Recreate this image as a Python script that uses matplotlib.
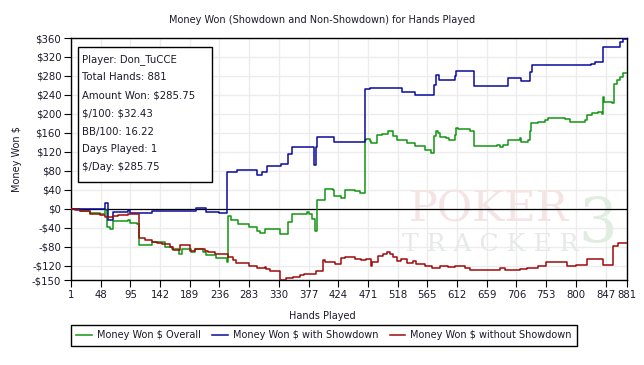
import matplotlib
matplotlib.use('Agg')
import matplotlib.pyplot as plt
from matplotlib.patches import Rectangle

# money won with showdown (hand, $)
sd_hands = [1, 55, 60, 67, 91, 95, 129, 199, 215, 235, 248, 264, 295, 303, 311, 333, 345, 350,
            386, 388, 391, 418, 466, 475, 525, 546, 575, 578, 583, 609, 611, 639, 692, 714, 728,
            730, 824, 831, 843, 860, 870, 874, 881]
sd_vals = [0, 13, -23, -6, -3, -8, -4, 2, -6, -9, 77, 82, 71, 78, 90, 95, 115, 130,
           93, 130, 151, 141, 252, 255, 246, 240, 260, 282, 272, 279, 291, 259, 276, 270, 288,
           303, 306, 310, 342, 340, 351, 357, 357]

# money won without showdown
nsd_hands = [1, 7, 15, 31, 47, 55, 67, 75, 91, 109, 118, 129, 137, 145, 158, 163, 174, 189,
             197, 213, 218, 229, 249, 257, 262, 283, 296, 308, 310, 316, 331, 342, 352, 363,
             370, 373, 389, 400, 403, 419, 429, 435, 450, 460, 468, 476, 477, 487, 495, 501,
             506, 511, 517, 524, 533, 542, 547, 562, 572, 585, 598, 609, 625, 633, 680, 688,
             711, 722, 740, 753, 786, 801, 817, 843, 859, 866, 881]
nsd_vals = [0, -2, -5, -11, -14, -18, -16, -13, -11, -62, -65, -70, -73, -75, -81, -86, -76, -89,
            -84, -89, -92, -96, -101, -108, -115, -120, -124, -122, -127, -131, -149, -145, -144, -140,
            -137, -138, -131, -108, -112, -117, -103, -101, -105, -108, -106, -120, -113, -99, -96, -92,
            -96, -101, -110, -105, -115, -110, -117, -120, -124, -120, -122, -120, -125, -129, -125, -129,
            -127, -124, -120, -113, -120, -118, -105, -119, -78, -71, -71]

# money won overall
all_hands = [1, 15, 31, 47, 55, 58, 63, 68, 91, 94, 105, 109, 129, 150, 161, 172, 176, 191,
             197, 210, 215, 231, 248, 249, 254, 265, 270, 283, 296, 300, 308, 331, 344, 350,
             375, 378, 382, 387, 390, 403, 416, 418, 429, 434, 450, 458, 466, 468, 474, 476,
             486, 494, 503, 511, 517, 533, 545, 561, 571, 576, 578, 582, 585, 594, 600, 608,
             611, 614, 632, 639, 675, 680, 684, 692, 711, 713, 724, 728, 729, 740, 751, 756,
             783, 790, 814, 817, 825, 835, 841, 843, 845, 857, 860, 865, 870, 874, 881]
all_vals = [0, -4, -8, -10, -2, -39, -42, -26, -23, -30, -33, -76, -69, -81, -85, -96, -85, -92,
            -85, -91, -98, -103, -112, -16, -23, -31, -33, -39, -46, -51, -43, -53, -28, -11,
            -7, -11, -21, -46, 18, 42, 39, 27, 23, 39, 37, 34, 144, 148, 143, 139,
            155, 158, 163, 153, 145, 139, 132, 123, 117, 153, 163, 160, 151, 149, 144, 155,
            171, 168, 165, 132, 134, 131, 134, 146, 150, 141, 145, 164, 180, 184, 187, 192,
            189, 184, 187, 198, 201, 203, 199, 236, 226, 222, 263, 272, 277, 286, 286]

x_ticks = [1, 48, 95, 142, 189, 236, 283, 330, 377, 424, 471, 518, 565, 612, 659, 706, 753,
           800, 847, 881]
y_ticks = [360, 320, 280, 240, 200, 160, 120, 80, 40, 0, -40, -80, -120, -150]

info_lines = ['Player: Don_TuCCE', 'Total Hands: 881', 'Amount Won: $285.75', '$/100: $32.43',
              'BB/100: 16.22', 'Days Played: 1', '$/Day: $285.75']

plt.rcParams['font.family'] = ['DejaVu Sans']
plt.rcParams['text.parse_math'] = False
txt = '#1a1a2a'
fs = 7

fig = plt.figure(figsize=(6.44, 3.65), dpi=100)
ax = fig.add_axes([71/644, 85/365, 556/644, 242/365])

ax.plot(all_hands, all_vals, drawstyle='steps-post', color='#129612', lw=1.1, label='Money Won $ Overall', zorder=3)
ax.plot(sd_hands, sd_vals, drawstyle='steps-post', color='#0a0a9e', lw=1.1, label='Money Won $ with Showdown', zorder=3)
ax.plot(nsd_hands, nsd_vals, drawstyle='steps-post', color='#a00a0a', lw=1.1, label='Money Won $ without Showdown', zorder=3)
ax.axhline(0, color='black', lw=0.9, zorder=2)

ax.set_xlim(1, 881)
ax.set_ylim(-150, 360)
ax.set_xticks(x_ticks)
ax.set_yticks(y_ticks)
ax.set_yticklabels([('-$%d' % -v) if v < 0 else ('$%d' % v) for v in y_ticks])
ax.tick_params(labelsize=fs + 0.3, colors='black', labelcolor=txt, length=5, width=0.8, pad=2)
ax.grid(True, color='#ececec', lw=1.0, zorder=0)
ax.set_axisbelow(True)
for s in ax.spines.values():
    s.set_color('black')
    s.set_linewidth(1.0)

ax.set_ylabel('Money Won $', fontsize=fs, color=txt, labelpad=7)
fig.text(0.5, 1 - 316/365, 'Hands Played', ha='center', va='center', fontsize=fs, color=txt)
fig.text(0.5, 1 - 20/365, 'Money Won (Showdown and Non-Showdown) for Hands Played',
         ha='center', va='center', fontsize=fs, color=txt)

# watermark
ax.text(0.752, 0.29, 'POKER', transform=ax.transAxes, ha='center', va='center',
        fontsize=31, family='DejaVu Serif', color='#f4e4e4', zorder=1)
ax.text(0.754, 0.145, 'T R A C K E R', transform=ax.transAxes, ha='center', va='center',
        fontsize=18, family='DejaVu Serif', color='#e6eae6', zorder=1)
ax.text(0.948, 0.23, '3', transform=ax.transAxes, ha='center', va='center',
        fontsize=44, family='DejaVu Serif', color='#e2ede2', zorder=1)

# info box
ax.add_patch(Rectangle((0.0126, 0.405), 0.241, 0.558, transform=ax.transAxes,
                       facecolor='white', edgecolor='black', lw=1.0, zorder=4))
for i, line in enumerate(info_lines):
    ax.text(11/556, (280 - 59.5 - 18 * i) / 242, line, transform=ax.transAxes,
            ha='left', va='center', fontsize=fs + 0.3, color=txt, zorder=5)

leg = fig.legend(loc='upper left', bbox_to_anchor=(71/644, 1 - 325/365), ncol=3,
                 fontsize=fs, fancybox=False, edgecolor='black', framealpha=1,
                 handlelength=1.6, columnspacing=1.2, handletextpad=0.5, borderpad=0.55,
                 borderaxespad=0)
leg.get_frame().set_linewidth(1.0)
for t in leg.get_texts():
    t.set_color(txt)

fig.savefig('out.png', dpi=100)
